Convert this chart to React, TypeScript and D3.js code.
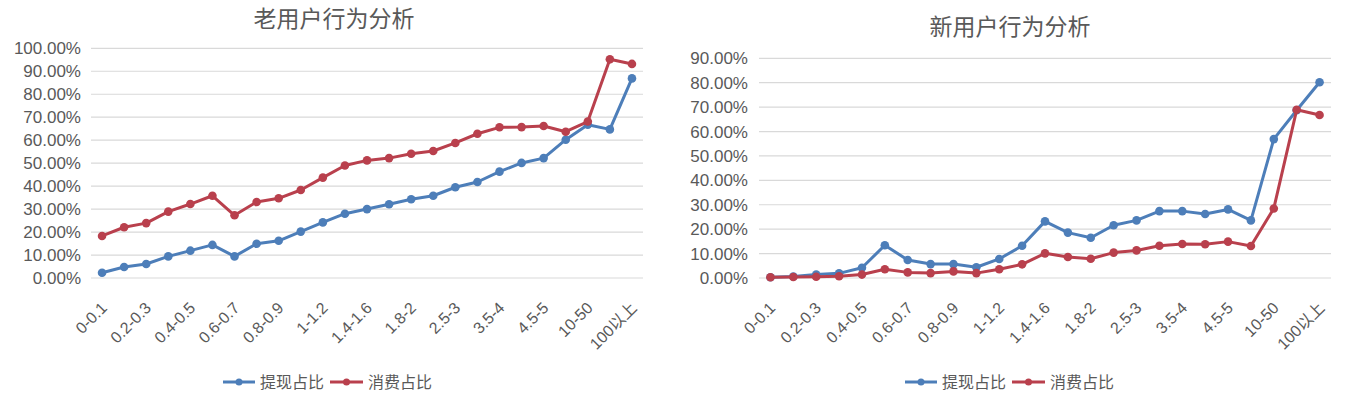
import React from "react";
import * as d3 from "d3";

const categories = [
  "0-0.1", "0.1-0.2", "0.2-0.3", "0.3-0.4", "0.4-0.5", "0.5-0.6", "0.6-0.7", "0.7-0.8",
  "0.8-0.9", "0.9-1", "1-1.2", "1.2-1.4", "1.4-1.6", "1.6-1.8", "1.8-2", "2-2.5",
  "2.5-3", "3-3.5", "3.5-4", "4-4.5", "4.5-5", "5-10", "10-50", "50-100", "100以上",
];

const oldWithdraw = [
  2.3, 4.8, 6.1, 9.4, 11.9, 14.4, 9.4, 14.9, 16.2, 20.2, 24.2, 28.0, 30.0,
  32.1, 34.3, 35.8, 39.5, 41.8, 46.3, 50.1, 52.2, 60.2, 66.7, 64.7, 86.9,
];
const oldSpend = [
  18.3, 22.1, 23.9, 28.9, 32.2, 35.8, 27.3, 33.1, 34.7, 38.3, 43.7, 49.0, 51.2,
  52.2, 54.1, 55.3, 58.8, 62.8, 65.6, 65.7, 66.2, 63.7, 68.1, 95.2, 93.2,
];
const newWithdraw = [
  0.3, 0.6, 1.4, 1.9, 4.2, 13.4, 7.4, 5.7, 5.7, 4.4, 7.8, 13.2, 23.2,
  18.6, 16.5, 21.6, 23.6, 27.4, 27.4, 26.2, 28.1, 23.6, 56.9, 68.7, 80.2,
];
const newSpend = [
  0.3, 0.4, 0.5, 0.7, 1.4, 3.6, 2.3, 2.0, 2.7, 2.0, 3.6, 5.6, 10.1,
  8.6, 7.9, 10.4, 11.3, 13.2, 13.9, 13.8, 14.9, 13.1, 28.5, 68.9, 66.8,
];

const oldTicks = [0, 10, 20, 30, 40, 50, 60, 70, 80, 90, 100];
const newTicks = [0, 10, 20, 30, 40, 50, 60, 70, 80, 90];

const seriesNames = ["提现占比", "消费占比"];
const BLUE = "#4d7eb9";
const RED = "#b9404d";
const FONT = "'Liberation Sans', 'Noto Sans CJK SC', sans-serif";
const TEXT = "#595959";

type ChartProps = {
  title: string;
  titleX: number;
  titleY: number;
  x0: number;
  x1: number;
  yTop: number;
  yBottom: number;
  yMax: number;
  ticks: number[];
  labelX: number;
  s1: number[];
  s2: number[];
  legendX: number;
};

function Chart(p: ChartProps) {
  const x = d3.scalePoint<string>().domain(categories).range([p.x0, p.x1]).padding(0.5);
  const y = d3.scaleLinear().domain([0, p.yMax]).range([p.yBottom, p.yTop]);
  const line = d3
    .line<number>()
    .x((_, i) => x(categories[i]) as number)
    .y((d) => y(d));
  const series = [
    { data: p.s1, color: BLUE },
    { data: p.s2, color: RED },
  ];
  const lx = p.legendX;
  const ly = 382;
  return (
    <g>
      <text x={p.titleX} y={p.titleY} textAnchor="middle" fontSize={23} fill={TEXT} fontFamily={FONT}>
        {p.title}
      </text>
      {p.ticks.map((t) => (
        <g key={t}>
          <line x1={p.x0} x2={p.x1} y1={y(t)} y2={y(t)} stroke="#d9d9d9" strokeWidth={1.2} />
          <text x={p.labelX} y={y(t)} dy="0.36em" textAnchor="end" fontSize={17} fill={TEXT} fontFamily={FONT}>
            {t.toFixed(2) + "%"}
          </text>
        </g>
      ))}
      {categories.map((c, i) =>
        i % 2 === 0 ? (
          <text
            key={c}
            transform={`translate(${(x(c) as number) + 2},${p.yBottom + 27}) rotate(-45)`}
            textAnchor="end"
            dy="0.35em"
            fontSize={16}
            fill={TEXT}
            fontFamily={FONT}
          >
            {c}
          </text>
        ) : null
      )}
      {series.map((s, k) => (
        <g key={k}>
          <path d={line(s.data) || ""} fill="none" stroke={s.color} strokeWidth={3} strokeLinejoin="round" />
          {s.data.map((v, i) => (
            <circle key={i} cx={x(categories[i]) as number} cy={y(v)} r={4.3} fill={s.color} />
          ))}
        </g>
      ))}
      {/* legend */}
      <g>
        <line x1={lx} x2={lx + 32} y1={ly} y2={ly} stroke={BLUE} strokeWidth={3} />
        <circle cx={lx + 16} cy={ly} r={3.5} fill={BLUE} />
        <text x={lx + 37} y={ly} dy="0.35em" fontSize={16} fill={TEXT} fontFamily={FONT}>
          {seriesNames[0]}
        </text>
        <line x1={lx + 107} x2={lx + 140} y1={ly} y2={ly} stroke={RED} strokeWidth={3} />
        <circle cx={lx + 123.5} cy={ly} r={3.5} fill={RED} />
        <text x={lx + 145} y={ly} dy="0.35em" fontSize={16} fill={TEXT} fontFamily={FONT}>
          {seriesNames[1]}
        </text>
      </g>
    </g>
  );
}

export default function App() {
  return (
    <svg
      width={1360}
      height={399}
      style={{ position: "absolute", left: 0, top: 0, background: "#fff" }}
    >
      <rect width={1360} height={399} fill="#fff" />
      <Chart
        title="老用户行为分析"
        titleX={334}
        titleY={27}
        x0={91}
        x1={643}
        yTop={48.3}
        yBottom={278}
        yMax={100}
        ticks={oldTicks}
        labelX={81}
        s1={oldWithdraw}
        s2={oldSpend}
        legendX={223}
      />
      <Chart
        title="新用户行为分析"
        titleX={1010}
        titleY={35}
        x0={759}
        x1={1331}
        yTop={58.3}
        yBottom={278}
        yMax={90}
        ticks={newTicks}
        labelX={748}
        s1={newWithdraw}
        s2={newSpend}
        legendX={905}
      />
    </svg>
  );
}
